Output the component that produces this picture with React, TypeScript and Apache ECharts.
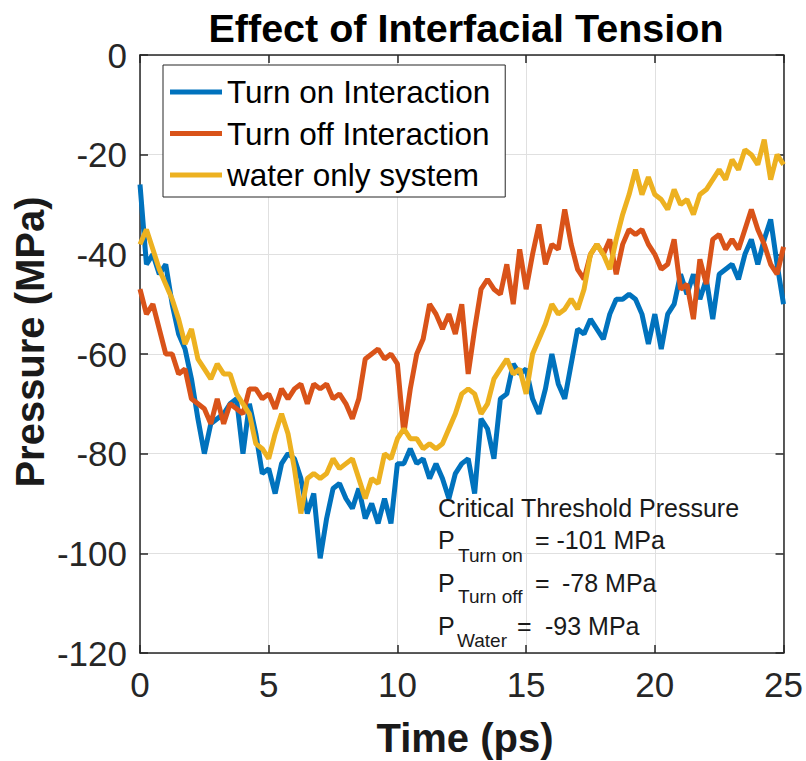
import React, { useEffect, useRef } from "react";
import * as echarts from "echarts";

const TIMES = Array.from({ length: 101 }, (_, i) => i * 0.25);

const X_TICKS = [0, 5, 10, 15, 20, 25];
const Y_TICKS = [-120, -100, -80, -60, -40, -20, 0];

const SERIES_NAMES = ["Turn on Interaction", "Turn off Interaction", "water only system"];
const SERIES_COLORS = ["#0072BD", "#D95319", "#EDB120"];

const TURN_ON = [
  -26, -42, -40, -44, -42, -50, -56, -59, -65, -73,
  -80, -74, -73, -72, -70, -69, -80, -70, -76, -84,
  -83, -88, -82, -80, -81, -85, -92, -88, -101, -93,
  -87, -86, -89, -91, -87, -93, -90, -94, -89, -94,
  -82, -82, -79, -82, -81, -85, -82, -85, -89, -84,
  -82, -81, -88, -73, -75, -81, -69, -68, -62, -64,
  -63, -69, -72, -67, -60, -66, -69, -62, -55, -56,
  -53, -55, -57, -52, -49, -49, -48, -49, -52, -58,
  -52, -59, -52, -50, -44, -48, -44, -49, -45, -53,
  -44, -43, -42, -45, -40, -37, -42, -37, -33, -42,
  -50,
];

const TURN_OFF = [
  -47, -52, -50, -55, -60, -60, -64, -63, -69, -70,
  -71, -74, -69, -74, -70, -71, -72, -67, -67, -69,
  -68, -71, -67, -69, -67, -66, -70, -66, -67, -66,
  -69, -68, -70, -73, -69, -61, -60, -59, -61, -60,
  -62, -76, -67, -60, -57, -50, -52, -55, -52, -56,
  -50, -64, -55, -47, -45, -47, -48, -42, -50, -39,
  -47, -40, -34, -42, -38, -39, -31, -38, -43, -45,
  -40, -38, -40, -37, -44, -38, -35, -36, -35, -38,
  -40, -43, -42, -37, -47, -46, -53, -41, -46, -37,
  -36, -39, -37, -39, -35, -31, -35, -38, -42, -44,
  -38.5,
];

const WATER = [
  -38, -35, -39, -43, -46, -49, -53, -58, -55, -61,
  -63, -65, -62, -64, -64, -68, -70, -72, -78, -79,
  -81, -76, -72, -76, -83, -92, -85, -84, -85, -84,
  -81, -83, -82, -81, -85, -89, -85, -86, -80, -81,
  -77, -75, -77, -77, -79, -78, -79, -78, -75, -72,
  -68, -67, -68, -72, -70, -65, -63, -61, -64, -63,
  -68, -60, -57, -54, -50, -52, -51, -49, -51, -47,
  -40, -38, -40, -43, -37, -32, -28, -23, -28, -24.5,
  -28, -29, -31, -27, -30, -29, -32, -28, -27, -25,
  -23, -25, -21, -23, -19, -20, -22, -17, -25, -20,
  -22,
];

const SERIES_VALUES = [TURN_ON, TURN_OFF, WATER];

const TITLE = "Effect of Interfacial Tension";
const X_NAME = "Time (ps)";
const Y_NAME = "Pressure (MPa)";
const NOTE_HEAD = "Critical Threshold Pressure";
const NOTE_SUBS = ["Turn on", "Turn off", "Water"];
const NOTE_VALUES = ["= -101 MPa", "-78 MPa", "-93 MPa"];

const FONT = "'Liberation Sans', Arial, Helvetica, sans-serif";
const AXIS_COLOR = "#262626";

export default function App() {
  const ref = useRef<HTMLDivElement>(null);

  useEffect(() => {
    if (!ref.current) return;
    const chart = echarts.init(ref.current, undefined, { renderer: "svg" });

    const axisLine = { show: true, onZero: false, lineStyle: { color: AXIS_COLOR, width: 1.5 } };
    const axisTick = { show: true, inside: true, length: 8, lineStyle: { color: AXIS_COLOR, width: 1.5 } };
    const splitLine = { show: true, lineStyle: { color: "#e0e0e0", width: 1 } };

    const xMin = X_TICKS[0];
    const xMax = X_TICKS[X_TICKS.length - 1];
    const yMin = Y_TICKS[0];
    const yMax = Y_TICKS[Y_TICKS.length - 1];

    const txt = (text: string, x: number, y: number, size: number, extra: any = {}) => ({
      type: "text",
      x,
      y,
      z: 100,
      ...extra,
      style: {
        text,
        fontSize: size,
        fontFamily: FONT,
        fill: "#1a1a1a",
        textAlign: "left",
        textVerticalAlign: "middle",
        ...(extra.style || {}),
      },
    });

    const option: any = {
      animation: false,
      backgroundColor: "#ffffff",
      grid: { left: 140, right: 22, top: 55, bottom: 108 },
      xAxis: [
        {
          type: "value",
          min: xMin,
          max: xMax,
          interval: 5,
          position: "bottom",
          axisLine,
          axisTick,
          axisLabel: { fontSize: 35, color: AXIS_COLOR, margin: 14, fontFamily: FONT },
          splitLine,
        },
        {
          type: "value",
          min: xMin,
          max: xMax,
          interval: 5,
          position: "top",
          axisLine,
          axisTick,
          axisLabel: { show: false },
          splitLine: { show: false },
        },
      ],
      yAxis: [
        {
          type: "value",
          min: yMin,
          max: yMax,
          interval: 20,
          position: "left",
          axisLine,
          axisTick,
          axisLabel: { fontSize: 35, color: AXIS_COLOR, margin: 13, fontFamily: FONT },
          splitLine,
        },
        {
          type: "value",
          min: yMin,
          max: yMax,
          interval: 20,
          position: "right",
          axisLine,
          axisTick,
          axisLabel: { show: false },
          splitLine: { show: false },
        },
      ],
      legend: {
        data: SERIES_NAMES,
        orient: "vertical",
        left: 163,
        top: 65,
        icon: "rect",
        itemWidth: 52,
        itemHeight: 5,
        itemGap: 5.5,
        padding: [9, 15, 4, 7],
        backgroundColor: "#ffffff",
        borderColor: AXIS_COLOR,
        borderWidth: 1,
        borderRadius: 0,
        textStyle: { fontSize: 31.5, color: "#000000", lineHeight: 36, fontFamily: FONT },
      },
      series: SERIES_NAMES.map((name, k) => ({
        name,
        type: "line",
        showSymbol: false,
        color: SERIES_COLORS[k],
        lineStyle: { width: 5, color: SERIES_COLORS[k] },
        data: TIMES.map((t, i) => [t, SERIES_VALUES[k][i]]),
        z: 2 + k,
      })),
      graphic: [
        txt(TITLE, 466, 28, 39.5, { style: { fontWeight: "bold", textAlign: "center", fill: "#000" } }),
        txt(X_NAME, 465, 738, 40, { style: { fontWeight: "bold", textAlign: "center", fill: "#1a1a1a" } }),
        txt(Y_NAME, 30, 342, 40, {
          rotation: Math.PI / 2,
          style: { fontWeight: "bold", textAlign: "center", fill: "#1a1a1a" },
        }),
        txt(NOTE_HEAD, 438, 508, 25),
        txt("P", 438, 539.5, 25),
        txt(NOTE_SUBS[0], 458, 555, 19),
        txt(NOTE_VALUES[0], 535, 539.5, 25),
        txt("P", 438, 583, 25),
        txt(NOTE_SUBS[1], 458, 596.7, 19),
        txt("=", 535, 583, 25),
        txt(NOTE_VALUES[1], 562, 583, 25),
        txt("P", 438, 626, 25),
        txt(NOTE_SUBS[2], 457, 640, 19),
        txt("=", 517, 626, 25),
        txt(NOTE_VALUES[2], 545, 626, 25),
      ],
    };

    chart.setOption(option);
    return () => chart.dispose();
  }, []);

  return (
    <div
      ref={ref}
      style={{ position: "absolute", left: 0, top: 0, width: 806, height: 761, background: "#fff" }}
    />
  );
}
